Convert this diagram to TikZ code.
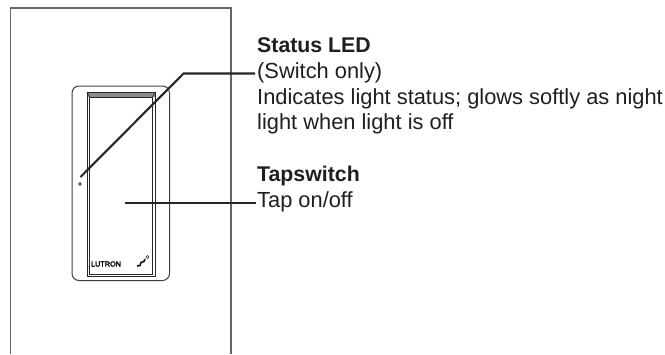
\documentclass[tikz,border=0pt]{standalone}
\usepackage{fontspec}
\setmainfont{Liberation Sans}
\newfontfamily\logofont[FakeBold=2.5]{Liberation Sans}
\tikzset{
  wall/.style={draw=black!60,line width=1.2pt},
  leader/.style={draw=black!85,line width=2.1pt},
  lbl/.style={anchor=base west,inner sep=0pt,font=\fontsize{21.85}{24}\selectfont,text=black!88},
  lblb/.style={lbl,font=\fontsize{21.3}{24}\selectfont\bfseries},
}
\begin{document}
\begin{tikzpicture}[x=1pt,y=-1pt]
\useasboundingbox (0,0) rectangle (665,354);
\fill[white] (0,0) rectangle (665,354);
\draw[wall] (10.5,354) -- (10.5,8) -- (231,8) -- (231,354);
% plate
\draw[black!75,line width=1pt,rounded corners=7pt] (72,86) rectangle (169.5,280.5);
\fill[black!45] (87,92) rectangle (155,97);
\draw[black!85,line width=1pt] (87,92) rectangle (155,276);
\draw[black!85,line width=1pt] (89.5,97) rectangle (152.5,274);
\draw[black!85,line width=.6pt] (87,92) -- (89.5,97) (155,92) -- (152.5,97);
\draw[black!85,line width=.7pt] (80,184) circle (1.4);
\node[inner sep=0pt,font=\logofont\fontsize{7.3}{8}\selectfont,anchor=center] (logo) at (106,264) {LUTRON};
\draw[black!90,line width=1.7pt] (137,266) -- (140,265.5) -- (141,262.5) -- (144,261.5) -- (145,259);
\draw[black!85,line width=.6pt] (147.5,257) circle (1.5);
% labels
\node[lblb] (t1) at (257,52.7) {Status LED};
\node[lbl] (t2) at (257,78.3) {(Switch only)};
\node[lbl] (t3) at (257,104) {Indicates light status; glows softly as night};
\node[lbl] (t4) at (257,129) {light when light is off};
\node[lblb] (t5) at (257,181.7) {Tapswitch};
\node[lbl] (t6) at (257,207.5) {Tap on/off};
\coordinate (led) at (80.5,177);
\coordinate (elbow) at (183.5,73.5);
\coordinate (end1) at (255,73.5);
\coordinate (tap) at (125,203);
\coordinate (end2) at (256,203);
\draw[leader] (led) -- (elbow) -- (end1);
\draw[leader] (tap) -- (end2);
\end{tikzpicture}
\end{document}
